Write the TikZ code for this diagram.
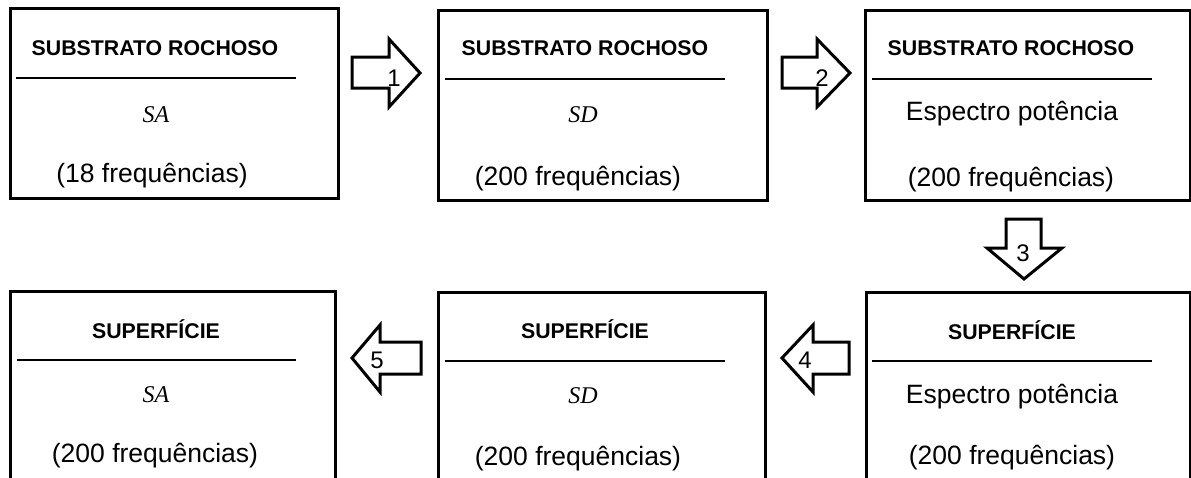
\documentclass[tikz,border=0pt]{standalone}
\usepackage{fontspec}
\setmainfont{Liberation Sans}
\newfontfamily\serifface{Liberation Serif}
\begin{document}
\begin{tikzpicture}[x=1pt,y=-1pt]
\tikzset{
 box/.style={draw, line width=3pt, rectangle, inner sep=0pt, outer sep=0pt},
 ttl/.style={font=\bfseries\fontsize{21.3}{24}\selectfont, anchor=base, inner sep=0pt},
 txt/.style={font=\fontsize{26.5}{30}\selectfont, anchor=base, inner sep=0pt},
 mth/.style={font=\serifface\itshape\fontsize{24}{28}\selectfont, anchor=base, inner sep=0pt},
 rulel/.style={line width=2pt},
 barrow/.style={draw, line width=3pt, fill=white, line join=miter},
 num/.style={font=\fontsize{24}{28}\selectfont, anchor=base, inner sep=0pt}
}
\useasboundingbox (0,0) rectangle (1191,477);
\clip (0,0) rectangle (1191,477);
% boxes
\node[box, minimum width=328pt, minimum height=190pt] (b1) at (174,103) {};
\node[box, minimum width=329pt, minimum height=190pt] (b2) at (602.5,105) {};
\node[box, minimum width=325pt, minimum height=190pt] (b3) at (1027.5,105) {};
\node[box, minimum width=325pt, minimum height=190pt] (b4) at (172.5,386) {};
\node[box, minimum width=327pt, minimum height=190pt] (b5) at (601.5,387) {};
\node[box, minimum width=324pt, minimum height=190pt] (b6) at (1028,387) {};
% rules
\draw[rulel] (16,78) -- (296,78);
\draw[rulel] (445,79) -- (725,79);
\draw[rulel] (872,79) -- (1152,79);
\draw[rulel] (17,360) -- (296,360);
\draw[rulel] (445,361) -- (725,361);
\draw[rulel] (872,361) -- (1152,361);
% texts top row
\node[ttl] (t1) at (155,55) {SUBSTRATO ROCHOSO};
\node[mth] (m1) at (156,122) {SA};
\node[txt] (f1) at (152,182) {(18 frequências)};
\node[ttl] (t2) at (585,55) {SUBSTRATO ROCHOSO};
\node[mth] (m2) at (583,122) {SD};
\node[txt] (f2) at (578,185) {(200 frequências)};
\node[ttl] (t3) at (1011,55) {SUBSTRATO ROCHOSO};
\node[txt] (m3) at (1012,120) {Espectro potência};
\node[txt] (f3) at (1011,186) {(200 frequências)};
% texts bottom row
\node[ttl] (t4) at (156,338) {SUPERFÍCIE};
\node[mth] (m4) at (156,402) {SA};
\node[txt] (f4) at (155,462) {(200 frequências)};
\node[ttl] (t5) at (585,338) {SUPERFÍCIE};
\node[mth] (m5) at (583,403) {SD};
\node[txt] (f5) at (578,465) {(200 frequências)};
\node[ttl] (t6) at (1012,339) {SUPERFÍCIE};
\node[txt] (m6) at (1012,403) {Espectro potência};
\node[txt] (f6) at (1012,464) {(200 frequências)};
% block arrows
\draw[barrow] (352,57) -- (389,57) -- (389,39) -- (420,73) -- (389,107) -- (389,88) -- (352,88) -- cycle;
\draw[barrow] (782,57) -- (817,57) -- (817,39) -- (850,73) -- (817,107) -- (817,88) -- (782,88) -- cycle;
\draw[barrow] (1006,219) -- (1041,219) -- (1041,248) -- (1062,248) -- (1024,279) -- (987,248) -- (1006,248) -- cycle;
\draw[barrow] (782,358) -- (813,325) -- (813,342) -- (849,342) -- (849,374) -- (813,374) -- (813,392) -- cycle;
\draw[barrow] (352,358) -- (380,325) -- (380,342) -- (421,342) -- (421,374) -- (380,374) -- (380,392) -- cycle;
% arrow numbers
\node[num] (n1) at (394,86) {1};
\node[num] (n2) at (822,86) {2};
\node[num] (n3) at (1023,261) {3};
\node[num] (n4) at (805,368) {4};
\node[num] (n5) at (377,368) {5};
\end{tikzpicture}
\end{document}
